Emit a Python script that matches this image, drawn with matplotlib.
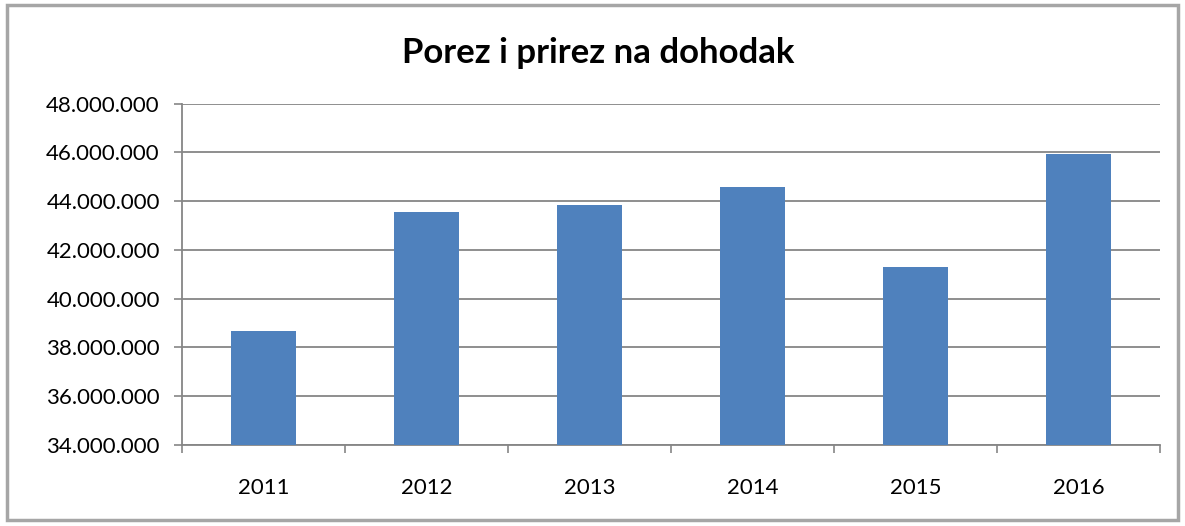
import matplotlib
matplotlib.use("Agg")
import matplotlib.pyplot as plt
from matplotlib.patches import Rectangle
from matplotlib.ticker import FuncFormatter, FixedLocator, NullFormatter
import numpy as np

# Podaci
godine = ["2011", "2012", "2013", "2014", "2015", "2016"]
iznosi = [38690000, 43560000, 43840000, 44570000, 41300000, 45920000]

plt.rcParams['font.family'] = ['Lato', 'DejaVu Sans']

fig = plt.figure(figsize=(11.85, 5.26), dpi=100)
ax = fig.add_axes([0.1536, 0.154, 0.979 - 0.1536, 0.8029 - 0.154])

x = np.arange(len(godine))
ax.bar(x, iznosi, width=0.4, color="#4F81BD", zorder=3)

ax.set_ylim(34000000, 48000000)
ax.set_yticks(np.arange(34000000, 48000001, 2000000))
ax.yaxis.set_major_formatter(FuncFormatter(lambda v, p: f"{int(v):,}".replace(",", ".")))
ax.grid(axis="y", color="#868686", linewidth=1.3, zorder=0)

ax.set_xlim(-0.5, len(godine) - 0.5)
ax.xaxis.set_major_locator(FixedLocator(np.arange(-0.5, len(godine), 1.0)))
ax.xaxis.set_major_formatter(NullFormatter())
ax.set_xticks(x, minor=True)
ax.set_xticklabels(godine, minor=True)
ax.tick_params(axis="x", which="minor", length=0, pad=24, labelsize=16)
ax.tick_params(axis="x", which="major", length=6, width=1.2, color="#868686", direction="out")
ax.tick_params(axis="y", length=6, width=1.2, color="#868686", labelsize=16, pad=10)

for s in ["top", "right"]:
    ax.spines[s].set_visible(False)
for s in ["left", "bottom"]:
    ax.spines[s].set_color("#868686")
    ax.spines[s].set_linewidth(1.3)

fig.text(0.505, 0.9, "Porez i prirez na dohodak", ha="center", va="center",
         fontsize=25, fontweight="bold")

# okvir grafikona
fig.patches.append(Rectangle((0.006, 0.012), 0.988, 0.978, transform=fig.transFigure,
                             fill=False, edgecolor="#A6A6A6", linewidth=2.5, zorder=10))

fig.savefig("out.png", dpi=100)
